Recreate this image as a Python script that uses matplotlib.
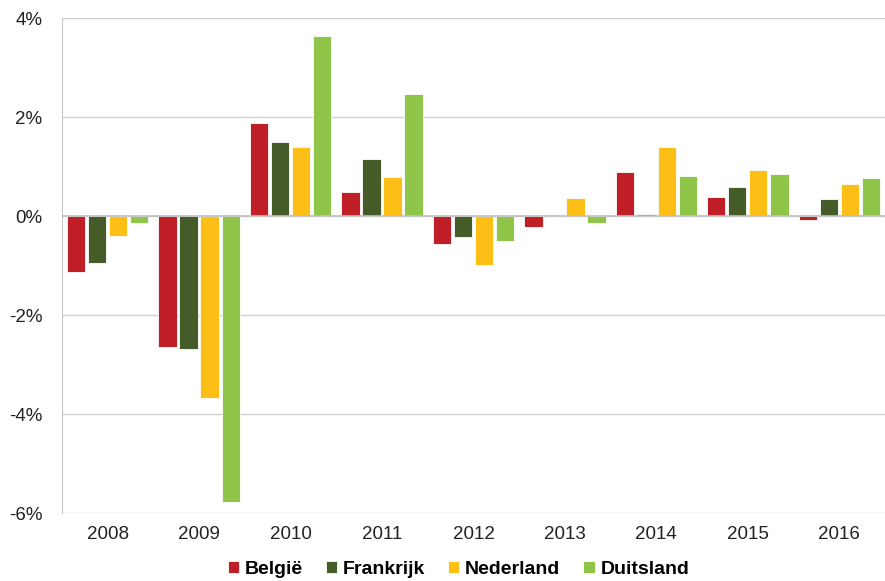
import matplotlib
matplotlib.use("Agg")
import matplotlib.pyplot as plt
import numpy as np
from matplotlib.ticker import FuncFormatter

plt.rcParams["font.family"] = ["Liberation Sans", "DejaVu Sans"]

years = ["2008", "2009", "2010", "2011", "2012", "2013", "2014", "2015", "2016"]
belgie = [-1.13, -2.65, 1.88, 0.48, -0.57, -0.22, 0.89, 0.38, -0.08]
frankrijk = [-0.95, -2.69, 1.49, 1.15, -0.42, 0.0, 0.04, 0.59, 0.34]
nederland = [-0.40, -3.68, 1.39, 0.79, -0.99, 0.36, 1.39, 0.93, 0.65]
duitsland = [-0.14, -5.78, 3.64, 2.46, -0.51, -0.14, 0.81, 0.85, 0.77]

series = [("België", belgie, "#C01F27"),
          ("Frankrijk", frankrijk, "#465C28"),
          ("Nederland", nederland, "#FDBE15"),
          ("Duitsland", duitsland, "#8FC64A")]

fig = plt.figure(figsize=(8.85, 5.81), dpi=100)
ax = fig.add_axes([0.070, 0.117, 0.930, 0.852])

x = np.arange(len(years))
width = 0.20
step = 0.23
for i, (name, vals, col) in enumerate(series):
    ax.bar(x + (i - 1.5) * step, vals, width, color=col, label=name,
           edgecolor="white", linewidth=0.6, zorder=3)

ax.set_xlim(-0.5, len(years) - 0.5)
ax.set_ylim(-6, 4)
ax.set_yticks([-6, -4, -2, 0, 2, 4])
ax.yaxis.set_major_formatter(FuncFormatter(lambda v, p: f"{v:.0f}%"))
ax.grid(axis="y", color="#D0D0D0", linewidth=1, zorder=0)
ax.axhline(0, color="#BFBFBF", linewidth=1.2, zorder=4)

ax.set_xticks(x)
ax.set_xticklabels(years)
ax.tick_params(axis="both", length=0, labelsize=13.5, colors="#222222")
ax.tick_params(axis="x", pad=9)
ax.tick_params(axis="y", pad=14)

for s in ["top", "right", "bottom"]:
    ax.spines[s].set_visible(False)
ax.spines["left"].set_color("#C8C8C8")

fig.legend(*ax.get_legend_handles_labels(), loc="center", bbox_to_anchor=(0.518, 0.020),
           ncol=4, frameon=False, prop={"weight": "bold", "size": 14},
           handlelength=0.6, handleheight=0.6, handletextpad=0.3, columnspacing=1.15,
           borderaxespad=0, borderpad=0)

fig.savefig("out.png", dpi=100)
